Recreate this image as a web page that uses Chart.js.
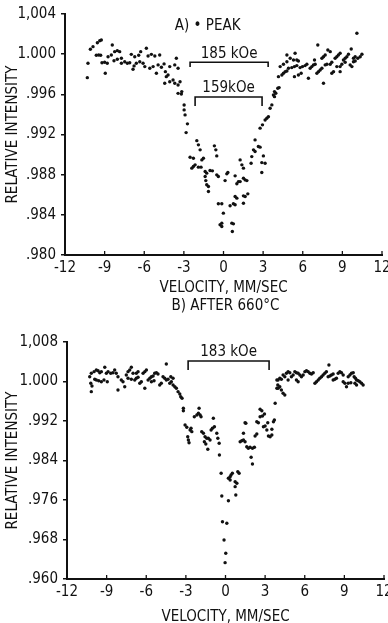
<!DOCTYPE html>
<html>
<head>
<meta charset="utf-8">
<script src="https://cdn.jsdelivr.net/npm/chart.js@4/dist/chart.umd.min.js"></script>
<style>
  html, body { margin: 0; padding: 0; background: #fff; overflow: hidden; }
  canvas { position: absolute; left: 0; }
  #peak { top: 0; }
  #after { top: 297px; }
</style>
</head>
<body>
<canvas id="peak" width="388" height="300"></canvas>
<canvas id="after" width="388" height="330"></canvas>
<script>
// velocity ticks, shared by both panels
const velocityTicks = [-12, -9, -6, -3, 0, 3, 6, 9, 12];

// panel A: peak
const peakTicks = [0.980, 0.984, 0.988, 0.992, 0.996, 1.000, 1.004];
const peakTickLabels = ['.980', '.984', '.988', '.992', '.996', '1.000', '1,004'];
const peakVelocity = [
  -10.31, -10.26, -10.08, -9.88, -9.55, -9.37, -9.25, -9.63, -9.45, -9.30,
  -9.20, -9.00, -8.80, -8.95, -8.74, -8.49, -8.42, -8.24, -8.04, -7.86,
  -8.29, -8.04, -7.73, -7.73, -7.48, -7.28, -7.10, -6.98, -6.72, -6.42,
  -6.27, -6.85, -6.77, -6.60, -6.34, -6.09, -5.84, -5.71, -5.46, -5.20,
  -4.83, -5.96, -5.58, -5.33, -5.08, -4.95, -4.70, -4.50, -4.40, -4.33,
  -4.20, -4.07, -3.69, -3.57, -3.44, -4.45, -4.07, -3.82, -3.69, -3.44,
  -3.44, -3.19, -2.98, -2.98,
  -3.29, -3.16, -2.91, -2.73, -2.83, -2.02, -1.90, -1.77, -2.53, -2.28,
  -1.64, -1.52, -2.40, -2.28, -2.15, -1.90, -1.70, -1.39, -1.27, -1.02,
  -0.84, -1.39, -1.34, -1.27, -1.14, -1.14, -0.69, -0.58, -0.51, -0.51,
  -0.39, 0.12, 0.25, 0.33, 0.88, 1.01, 1.13, 1.26, 1.26, 1.39,
  1.51, 1.51, 1.64, 1.77, 2.09, 2.14, 2.27, 2.39, 2.39, 2.64,
  2.77, 2.90, 3.02, 3.15, 2.90, -0.39, -0.13, 0.50, 0.75, 0.88,
  0.88, 1.01, 1.51, 1.64, 1.84, 1.51, -0.01, -0.13, -0.26, -0.13,
  0.63, 0.75, 0.67, 2.77, 2.95, 3.15, 3.28, 3.40, 3.53, 3.66,
  3.78, 3.86,
  3.86, 3.96, 4.11, 4.21, 4.16, 4.42, 4.54, 4.67, 4.80, 4.29,
  4.54, 4.80, 4.80, 5.05, 5.30, 5.55, 5.67, 4.92, 5.17, 5.37,
  5.55, 5.37, 5.67, 5.88, 5.80, 5.98, 6.18, 6.31, 6.43, 6.56,
  6.69, 6.81, 6.94, 6.89, 7.14, 7.07, 7.19, 7.32, 7.45, 7.57,
  7.45, 7.57, 7.70, 7.90, 8.08, 7.70, 7.83, 8.08, 8.20, 8.20,
  8.33, 8.45, 8.58, 8.70, 8.83, 8.58, 8.83, 8.96, 9.21, 8.83,
  9.08, 9.21, 9.34, 9.46, 9.59, 9.72, 9.67, 9.84, 9.97, 10.17,
  10.35, 10.48, 10.10, 9.84, 9.97, 5.42
];
const peakIntensity = [
  0.99766, 0.99909, 1.00049, 1.00075, 1.00114, 1.00134, 1.00141, 0.99989, 0.99992, 0.99989,
  0.99915, 0.99919, 0.99909, 0.99810, 0.99975, 0.99992, 1.00092, 1.00025, 1.00035, 1.00025,
  0.99935, 0.99949, 0.99959, 0.99909, 0.99925, 0.99909, 0.99915, 0.99998, 0.99975, 0.99989,
  1.00025, 0.99850, 0.99883, 0.99909, 0.99925, 0.99909, 1.00059, 0.99982, 0.99998, 0.99982,
  0.99992, 0.99876, 0.99860, 0.99876, 0.99810, 0.99893, 0.99870, 0.99903, 0.99826, 0.99776,
  0.99793, 0.99876, 0.99893, 0.99959, 0.99860, 0.99710, 0.99726, 0.99743, 0.99710, 0.99693,
  0.99610, 0.99604, 0.99494, 0.99445,
  0.99726, 0.99627, 0.99395, 0.99306, 0.99219, 0.99139, 0.99097, 0.99047, 0.98974, 0.98964,
  0.98947, 0.98964, 0.98865, 0.98881, 0.98898, 0.98875, 0.98875, 0.98831, 0.98815, 0.98841,
  0.98838, 0.98781, 0.98741, 0.98699, 0.98682, 0.98632, 0.99087, 0.99047, 0.98987, 0.98798,
  0.98781, 0.98741, 0.98808, 0.98821, 0.98788, 0.98709, 0.98731, 0.98731, 0.98947, 0.98898,
  0.98865, 0.98765, 0.98748, 0.98741, 0.98914, 0.98980, 0.99047, 0.99030, 0.99146, 0.99080,
  0.99074, 0.98920, 0.98987, 0.98914, 0.98821, 0.98510, 0.98510, 0.98490, 0.98510, 0.98500,
  0.98582, 0.98566, 0.98589, 0.98582, 0.98609, 0.98516, 0.98417, 0.98317, 0.98301, 0.98284,
  0.98317, 0.98310, 0.98234, 0.99263, 0.99296, 0.99345, 0.99362, 0.99378, 0.99462, 0.99495,
  0.99594, 0.99627,
  0.99577, 0.99611, 0.99661, 0.99667, 0.99776, 0.99793, 0.99810, 0.99826, 0.99833, 0.99876,
  0.99900, 0.99925, 0.99992, 0.99959, 0.99942, 0.99942, 0.99932, 0.99860, 0.99866, 0.99876,
  0.99886, 0.99776, 0.99793, 0.99810, 0.99866, 0.99876, 0.99886, 0.99900, 0.99760, 0.99860,
  0.99876, 0.99893, 0.99900, 0.99942, 1.00092, 0.99810, 0.99826, 0.99843, 0.99860, 0.99710,
  0.99959, 0.99975, 0.99992, 1.00042, 1.00025, 0.99893, 0.99900, 0.99900, 0.99920, 0.99810,
  0.99826, 0.99959, 0.99975, 0.99992, 1.00009, 0.99876, 0.99876, 0.99900, 0.99920, 0.99826,
  0.99942, 0.99959, 0.99975, 0.99999, 0.99893, 0.99876, 1.00052, 0.99959, 0.99975, 0.99959,
  0.99975, 0.99999, 1.00208, 0.99925, 0.99932, 1.00009
];

// panel B: after 660 C
const afterTicks = [0.960, 0.968, 0.976, 0.984, 0.992, 1.000, 1.008];
const afterTickLabels = ['.960', '.968', '.976', '.984', '.992', '1.000', '1,008'];
const afterVelocity = [
  -10.20, -10.11, -10.16, -10.28, -10.16, -9.95, -9.78, -9.65, -9.52, -9.40,
  -9.90, -9.78, -9.60, -9.40, -9.20, -9.14, -9.02, -8.89, -8.69, -8.52,
  -8.95, -8.39, -8.27, -8.14, -8.14, -7.89, -7.76, -7.63, -7.51, -7.38,
  -7.25, -7.13, -7.00, -7.38, -7.13, -6.87, -6.75, -6.62, -6.75, -6.62,
  -6.49, -6.37, -6.24, -6.11, -5.99, -6.11, -5.86, -5.73, -5.61, -5.48,
  -5.61, -5.41, -5.36, -5.23, -5.11, -4.98, -4.86, -4.73, -4.60, -4.48,
  -4.35, -4.48, -4.22, -4.10, -3.97, -3.84, -4.14, -3.97, -3.72, -3.59,
  -3.46, -3.39, -3.29, -3.19,
  -3.19, -3.06, -2.93, -2.68, -2.55, -2.61, -2.86, -2.81, -2.76, -2.36,
  -2.17, -2.05, -2.00, -1.92, -1.85, -1.80, -1.67, -1.55, -1.42, -1.30,
  -1.17, -1.60, -1.49, -1.34, -1.09, -0.99, -0.84, -0.92, -0.66, -0.58,
  -0.48, -0.46, -0.33, 0.22, 0.35, 0.42, 0.52, 0.35, 0.93, 1.03,
  0.73, 0.86, 0.73, -0.28, 0.22, 0.78, -0.23, 0.10, -0.11, 0.02,
  -0.03, 1.11, 1.23, 1.36, 1.48, 1.48, 1.54, 1.36, 1.61, 1.73,
  1.86, 2.04, 2.19, 1.94, 2.04, 2.24, 2.37, 2.37, 2.49, 2.62,
  2.75, 2.62, 2.80, 2.95, 2.87, 3.00, 3.13, 3.25, 3.38, 3.51,
  3.20, 3.51, 3.63, 3.70, 3.76, 3.89, 3.96, 3.89,
  3.98, 4.11, 4.23, 4.36, 4.49, 3.98, 4.11, 4.23, 4.36, 4.49,
  4.61, 4.74, 4.87, 4.74, 4.99, 5.12, 5.25, 5.37, 5.50, 5.63,
  5.75, 5.88, 5.37, 5.50, 6.01, 6.13, 6.26, 6.39, 6.51, 6.64,
  6.77, 6.89, 7.02, 7.14, 7.27, 7.39, 7.52, 7.64, 7.83, 7.77,
  7.90, 8.02, 8.15, 8.15, 8.28, 8.40, 8.53, 8.66, 8.78, 8.91,
  8.91, 9.04, 9.16, 9.29, 9.42, 9.54, 9.67, 9.29, 9.49, 9.74,
  9.84, 9.92, 10.05, 10.17, 10.30, 10.42, 9.80, 9.92
];
const afterIntensity = [
  0.99964, 0.99909, 0.99794, 1.00097, 1.00166, 1.00199, 1.00233, 1.00219, 1.00178, 1.00199,
  1.00045, 1.00031, 1.00016, 0.99996, 1.00031, 1.00288, 1.00166, 1.00199, 1.00166, 1.00178,
  0.99996, 1.00233, 1.00166, 1.00097, 0.99828, 1.00031, 0.99996, 0.99895, 1.00132, 1.00199,
  1.00233, 1.00288, 1.00166, 1.00065, 1.00045, 1.00031, 1.00065, 1.00085, 1.00166, 1.00199,
  0.99964, 0.99996, 1.00166, 1.00199, 1.00233, 0.99862, 1.00031, 1.00065, 1.00097, 1.00111,
  0.99996, 1.00016, 1.00166, 1.00178, 1.00152, 0.99929, 0.99964, 1.00097, 1.00065, 1.00031,
  1.00045, 1.00355, 0.99964, 0.99996, 0.99929, 0.99895, 1.00097, 1.00065, 0.99862, 0.99794,
  0.99747, 0.99692, 0.99660, 0.99457,
  0.99409, 0.99119, 0.99073, 0.99018, 0.98984, 0.99052, 0.98882, 0.98815, 0.98761, 0.99287,
  0.99322, 0.99356, 0.99457, 0.99322, 0.99287, 0.98984, 0.98951, 0.98882, 0.98850, 0.98850,
  0.98815, 0.98781, 0.98734, 0.98627, 0.99018, 0.99052, 0.99085, 0.99255, 0.98951, 0.98850,
  0.98749, 0.98512, 0.98141, 0.98040, 0.98072, 0.98107, 0.98141, 0.98006, 0.98174, 0.98141,
  0.97971, 0.97939, 0.97870, 0.97681, 0.97586, 0.97702, 0.97161, 0.97129, 0.96791, 0.96521,
  0.96331, 0.98781, 0.98801, 0.98815, 0.98781, 0.99166, 0.99154, 0.98951, 0.98680, 0.98647,
  0.98668, 0.98647, 0.98668, 0.98465, 0.98330, 0.98897, 0.98937, 0.99186, 0.99166, 0.99437,
  0.99409, 0.99287, 0.99301, 0.99342, 0.99085, 0.99099, 0.99018, 0.98897, 0.98882, 0.98917,
  0.99166, 0.99032, 0.99186, 0.99221, 0.99559, 0.99862, 0.99929, 1.00031,
  0.99862, 0.99895, 0.99828, 0.99761, 0.99727, 1.00031, 1.00065, 1.00045, 1.00132, 1.00097,
  1.00166, 1.00199, 1.00178, 1.00031, 1.00097, 1.00132, 1.00199, 1.00178, 1.00166, 1.00132,
  1.00097, 1.00132, 1.00031, 0.99996, 1.00199, 1.00219, 1.00199, 1.00166, 1.00152, 1.00178,
  0.99964, 0.99996, 1.00031, 1.00065, 1.00097, 1.00132, 1.00166, 1.00199, 1.00334, 1.00097,
  1.00111, 1.00132, 1.00152, 1.00031, 1.00045, 1.00065, 1.00166, 1.00199, 1.00178, 1.00132,
  0.99996, 0.99964, 0.99895, 1.00097, 1.00132, 1.00166, 1.00178, 0.99964, 0.99976, 1.00097,
  1.00065, 1.00031, 1.00016, 0.99996, 0.99964, 0.99929, 0.99964, 0.99929
];

// hyperfine field brackets (velocity from/to, intensity of bar and of its ends)
const peakBrackets = [
  { label: '185 kOe', from: -2.53, to: 3.38, at: 0.99920, end: 0.99873 },
  { label: '159kOe', from: -2.15, to: 2.92, at: 0.99574, end: 0.99485 }
];
const afterBrackets = [
  { label: '183 kOe', from: -2.83, to: 3.30, at: 1.00415, end: 1.00233 }
];

const FONT = "'Liberation Sans Narrow', 'DejaVu Sans Condensed', 'Roboto Condensed', sans-serif";
const INK = '#111';

const bracketPlugin = {
  id: 'brackets',
  afterDraw(chart, args, opts) {
    const { ctx, chartArea, scales: { x, y } } = chart;
    ctx.save();
    // inward tick marks on the velocity axis
    ctx.strokeStyle = INK;
    ctx.lineWidth = 1.3;
    velocityTicks.forEach(v => {
      const px = x.getPixelForValue(v);
      ctx.beginPath();
      ctx.moveTo(px, chartArea.bottom);
      ctx.lineTo(px, chartArea.bottom - 4);
      ctx.stroke();
    });
    ctx.fillStyle = INK;
    ctx.font = '15px ' + FONT;
    ctx.textAlign = 'center';
    ctx.textBaseline = 'bottom';
    ctx.lineWidth = 1.6;
    (opts.items || []).forEach(b => {
      const x1 = x.getPixelForValue(b.from);
      const x2 = x.getPixelForValue(b.to);
      const yb = y.getPixelForValue(b.at);
      const ye = y.getPixelForValue(b.end);
      ctx.beginPath();
      ctx.moveTo(x1, ye);
      ctx.lineTo(x1, yb);
      ctx.lineTo(x2, yb);
      ctx.lineTo(x2, ye);
      ctx.stroke();
      ctx.fillText(b.label, (x1 + x2) / 2, yb - 1);
    });
    if (opts.caption) {
      ctx.textBaseline = 'middle';
      ctx.fillText(opts.caption, chartArea.left + chartArea.width * opts.captionX, chartArea.top + opts.captionDy);
    }
    ctx.restore();
  }
};

function points(xs, ys) {
  return xs.map((v, i) => ({ x: v, y: ys[i] }));
}

function makeChart(id, opt) {
  return new Chart(document.getElementById(id), {
    type: 'scatter',
    data: {
      datasets: [{
        data: points(opt.xs, opt.ys),
        pointRadius: 1.7,
        pointBackgroundColor: INK,
        pointBorderWidth: 0
      }]
    },
    plugins: [bracketPlugin],
    options: {
      responsive: false,
      animation: false,
      devicePixelRatio: 1,
      layout: { padding: opt.padding },
      plugins: {
        legend: { display: false },
        tooltip: { enabled: false },
        brackets: { items: opt.brackets, caption: opt.caption, captionX: opt.captionX, captionDy: opt.captionDy }
      },
      scales: {
        x: {
          type: 'linear',
          min: -12,
          max: 12,
          afterBuildTicks: s => { s.ticks = velocityTicks.map(v => ({ value: v })); },
          afterFit: s => { s.height = opt.xHeight; s.paddingLeft = 0; s.paddingRight = 0; },
          border: { color: INK, width: 2 },
          grid: { display: true, drawOnChartArea: false, drawTicks: false },
          ticks: { color: INK, padding: 4, font: { family: FONT, size: 15 }, callback: v => String(v) },
          title: {
            display: true,
            text: 'VELOCITY, MM/SEC',
            color: INK,
            font: { family: FONT, size: 15 },
            padding: { top: 0, bottom: opt.xTitlePad }
          }
        },
        y: {
          type: 'linear',
          min: opt.yTicks[0],
          max: opt.yTicks[opt.yTicks.length - 1],
          afterBuildTicks: s => { s.ticks = opt.yTicks.map(v => ({ value: v })); },
          afterFit: s => { s.width = opt.yWidth; s.paddingTop = 0; s.paddingBottom = 0; },
          border: { color: INK, width: 2 },
          grid: { display: true, drawOnChartArea: false, drawTicks: true, tickLength: 4, color: INK, lineWidth: 1.5 },
          ticks: {
            color: INK,
            padding: 5,
            font: { family: FONT, size: 15 },
            callback: (v, i) => opt.yLabels[i]
          },
          title: {
            display: true,
            text: 'RELATIVE INTENSITY',
            color: INK,
            font: { family: FONT, size: 15 },
            padding: { top: 4, bottom: 0 }
          }
        }
      }
    }
  });
}

makeChart('peak', {
  xs: peakVelocity, ys: peakIntensity,
  yTicks: peakTicks, yLabels: peakTickLabels,
  brackets: peakBrackets, caption: 'A) \u2022 PEAK', captionX: 0.45, captionDy: 12,
  padding: { top: 14, right: 6, left: 0, bottom: 0 },
  yWidth: 65, xHeight: 45, xTitlePad: 3
});

makeChart('after', {
  xs: afterVelocity, ys: afterIntensity,
  yTicks: afterTicks, yLabels: afterTickLabels,
  brackets: afterBrackets, caption: 'B) AFTER 660\u00B0C', captionX: 0.5, captionDy: -36,
  padding: { top: 45, right: 4, left: 0, bottom: 0 },
  yWidth: 67, xHeight: 48, xTitlePad: 1
});
</script>
</body>
</html>
